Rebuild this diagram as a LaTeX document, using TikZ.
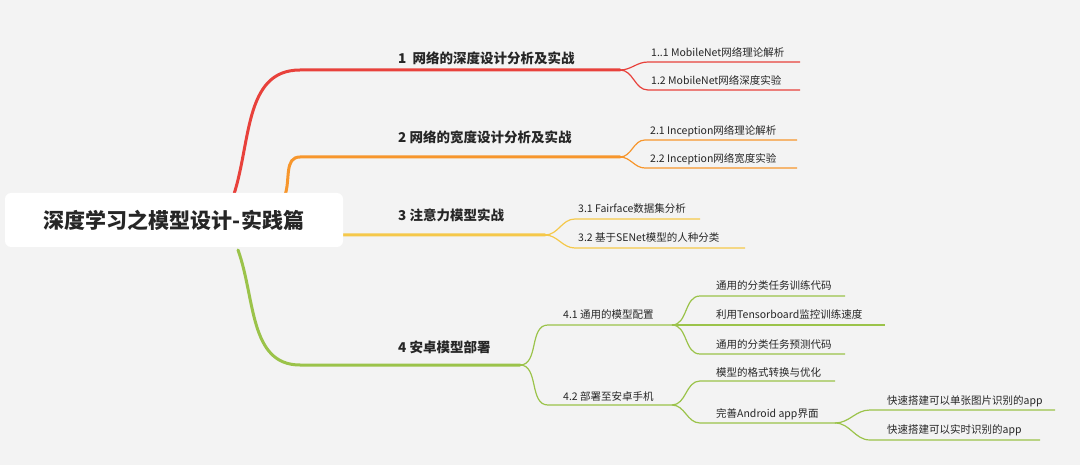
\documentclass[tikz,border=0pt]{standalone}
\usepackage{fontspec}
\setmainfont{Noto Sans CJK SC}
\usetikzlibrary{positioning}
\definecolor{bgray}{HTML}{F3F3F3}
\definecolor{cred}{HTML}{E8413B}
\definecolor{corange}{HTML}{F7962C}
\definecolor{cyellow}{HTML}{F5C84A}
\definecolor{cgreen}{HTML}{9BC34A}
\tikzset{root style/.style={
		fill=white,
		rounded corners=6pt,
		minimum width=338pt,
		minimum height=54pt,
		font=\fontsize{21}{24}\selectfont\bfseries,
		text=black!85,
	},
	main style/.style={
		anchor=west,
		font=\fontsize{13.5}{16}\selectfont\bfseries,
		text=black!85,
		inner sep=0pt,
	},
	sub style/.style={
		anchor=west,
		font=\fontsize{10.5}{13}\selectfont,
		text=black!85,
		inner sep=0pt,
	},
	branch style/.style={
		#1,
		line width=3pt,
		line cap=round,
	},
	twig style/.style={
		#1,
		line width=1.2pt,
	}
}
\begin{document}
\begin{tikzpicture}[x=1pt,y=-1pt]
	\useasboundingbox[fill=bgray] (0,0) rectangle (1080,465);

	% anchor points
	\coordinate (R1) at (232,200);
	\coordinate (R2) at (285,195);
	\coordinate (R3) at (240,233);
	\coordinate (R4) at (238,250);
	\coordinate (A1) at (300,70);  \coordinate (B1) at (620,70);
	\coordinate (A2) at (300,157); \coordinate (B2) at (620,157);
	\coordinate (A3) at (300,235); \coordinate (B3) at (545,235);
	\coordinate (A4) at (300,365); \coordinate (B4) at (520,365);

	% main branches
	\draw[branch style=cred] (R1) to[out=70,in=180] (A1) -- (B1);
	\draw[branch style=corange] (R2) to[out=70,in=180] (A2) -- (B2);
	\draw[branch style=cyellow] (R3) -- (A3) -- (B3);
	\draw[branch style=cgreen] (R4) to[out=-70,in=180] (A4) -- (B4);

	\node[main style] (M1) at (398,58) {1\ \ 网络的深度设计分析及实战};
	\node[main style] (M2) at (398,137) {2 网络的宽度设计分析及实战};
	\node[main style] (M3) at (398,215) {3 注意力模型实战};
	\node[main style] (M4) at (398,347) {4 安卓模型部署};

	% branch 1
	\coordinate (C11) at (648,62); \coordinate (D11) at (800,62);
	\coordinate (C12) at (648,90); \coordinate (D12) at (800,90);
	\draw[twig style=cred] (B1) to[out=0,in=180] (C11) -- (D11);
	\draw[twig style=cred] (B1) to[out=0,in=180] (C12) -- (D12);
	\node[sub style] (S11) at (651,52) {1..1 MobileNet网络理论解析};
	\node[sub style] (S12) at (651,80) {1.2 MobileNet网络深度实验};

	% branch 2
	\coordinate (C21) at (645,140); \coordinate (D21) at (797,140);
	\coordinate (C22) at (645,168); \coordinate (D22) at (797,168);
	\draw[twig style=corange] (B2) to[out=0,in=180] (C21) -- (D21);
	\draw[twig style=corange] (B2) to[out=0,in=180] (C22) -- (D22);
	\node[sub style] (S21) at (650,131) {2.1 Inception网络理论解析};
	\node[sub style] (S22) at (650,159) {2.2 Inception网络宽度实验};

	% branch 3
	\coordinate (C31) at (575,219); \coordinate (D31) at (700,219);
	\coordinate (C32) at (575,248); \coordinate (D32) at (745,248);
	\draw[twig style=cyellow] (B3) to[out=0,in=180] (C31) -- (D31);
	\draw[twig style=cyellow] (B3) to[out=0,in=180] (C32) -- (D32);
	\node[sub style] (S31) at (578,209) {3.1 Fairface数据集分析};
	\node[sub style] (S32) at (578,238) {3.2 基于SENet模型的人种分类};

	% branch 4
	\coordinate (C41) at (548,325); \coordinate (D41) at (672,325);
	\coordinate (C42) at (548,405); \coordinate (D42) at (672,405);
	\draw[twig style=cgreen] (B4) to[out=0,in=180] (C41) -- (D41);
	\draw[twig style=cgreen] (B4) to[out=0,in=180] (C42) -- (D42);
	\node[sub style] (S41) at (563,315) {4.1 通用的模型配置};
	\node[sub style] (S42) at (563,396) {4.2 部署至安卓手机};

	\coordinate (E1) at (700,296); \coordinate (F1) at (845,296);
	\coordinate (E2) at (700,325); \coordinate (F2) at (885,325);
	\coordinate (E3) at (700,354); \coordinate (F3) at (845,354);
	\draw[twig style=cgreen] (D41) to[out=0,in=180] (E1) -- (F1);
	\draw[twig style=cgreen] (D41) -- (E2) -- (F2);
	\draw[twig style=cgreen] (D41) to[out=0,in=180] (E3) -- (F3);
	\node[sub style] (T1) at (716,286) {通用的分类任务训练代码};
	\node[sub style] (T2) at (716,315) {利用Tensorboard监控训练速度};
	\node[sub style] (T3) at (716,345) {通用的分类任务预测代码};

	\coordinate (E4) at (700,381); \coordinate (F4) at (835,381);
	\coordinate (E5) at (700,423); \coordinate (F5) at (835,423);
	\draw[twig style=cgreen] (D42) to[out=0,in=180] (E4) -- (F4);
	\draw[twig style=cgreen] (D42) to[out=0,in=180] (E5) -- (F5);
	\node[sub style] (T4) at (716,372) {模型的格式转换与优化};
	\node[sub style] (T5) at (716,414) {完善Android app界面};

	\coordinate (G1) at (870,410); \coordinate (H1) at (1055,410);
	\coordinate (G2) at (870,440); \coordinate (H2) at (1040,440);
	\draw[twig style=cgreen] (F5) to[out=0,in=180] (G1) -- (H1);
	\draw[twig style=cgreen] (F5) to[out=0,in=180] (G2) -- (H2);
	\node[sub style] (U1) at (887,401) {快速搭建可以单张图片识别的app};
	\node[sub style] (U2) at (887,430) {快速搭建可以实时识别的app};

	% root
	\node[root style] (Root) at (174,220) {深度学习之模型设计-实践篇};
\end{tikzpicture}
\end{document}
